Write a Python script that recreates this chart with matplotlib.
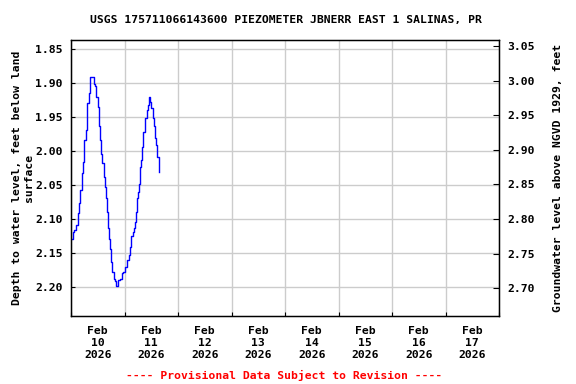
import datetime as dt

import matplotlib
matplotlib.use("Agg")
import matplotlib.dates as mdates
from matplotlib import pyplot as plt

# hours after 2026-02-10 00:00 and depth to water level (ft below land surface)
hours = [0.0, 0.75, 1.5, 2.2, 3.0, 3.7, 4.2, 4.8, 5.4, 6.0, 6.7, 7.3, 7.9, 8.3, 8.7,
         9.7, 10.1, 10.9, 11.3, 11.9, 12.4, 13.0, 13.6, 14.0, 14.6, 15.1, 15.5, 16.0,
         16.5, 17.0, 17.5, 18.0, 18.6, 19.1, 19.8, 20.3, 20.9, 21.8, 22.7, 23.5, 24.3,
         25.0, 25.8, 26.4, 27.0, 27.6, 28.2, 28.8, 29.2, 29.7, 30.1, 30.6, 30.9, 31.5,
         31.9, 32.5, 33.0, 33.4, 33.9, 34.4, 34.9, 35.3, 36.1, 36.7, 37.3, 37.7, 38.2,
         38.8, 39.3, 39.7]
depth = [2.129, 2.120, 2.117, 2.109, 2.092, 2.077, 2.058, 2.033, 2.016, 1.984, 1.969,
         1.930, 1.915, 1.905, 1.891, 1.891, 1.901, 1.905, 1.920, 1.935, 1.964, 1.984,
         2.004, 2.018, 2.038, 2.053, 2.070, 2.090, 2.114, 2.129, 2.144, 2.163, 2.178,
         2.189, 2.191, 2.199, 2.190, 2.188, 2.180, 2.178, 2.171, 2.161, 2.153, 2.141,
         2.126, 2.119, 2.114, 2.104, 2.090, 2.070, 2.060, 2.048, 2.023, 2.014, 1.994,
         1.972, 1.964, 1.952, 1.940, 1.932, 1.920, 1.928, 1.937, 1.952, 1.964, 1.981,
         1.991, 2.009, 2.018, 2.031]

start = dt.datetime(2026, 2, 10)
end = dt.datetime(2026, 2, 18)
left_ticks = [1.85, 1.90, 1.95, 2.00, 2.05, 2.10, 2.15, 2.20]
right_ticks = [2.70, 2.75, 2.80, 2.85, 2.90, 2.95, 3.00, 3.05]

title = "USGS 175711066143600 PIEZOMETER JBNERR EAST 1 SALINAS, PR"
left_label = "Depth to water level, feet below land\nsurface"
right_label = "Groundwater level above NGVD 1929, feet"
note = "---- Provisional Data Subject to Revision ----"

font = {"family": "DejaVu Sans Mono", "weight": "bold", "size": 8.2}

times = [start + dt.timedelta(hours=h) for h in hours]

fig = plt.figure(figsize=(5.76, 3.84), dpi=100)
ax = fig.add_axes([71 / 576, 1 - 316 / 384, 428 / 576, 276 / 384])

ax.plot(times, depth, color="#0000FF", linewidth=1.0, drawstyle="steps-post")

ax.set_xlim(start, end)
ax.set_ylim(2.2431, 1.8367)
ax.set_yticks(left_ticks)
ax.set_yticklabels([f"{v:.2f}" for v in left_ticks], fontdict=font)

ax.xaxis.set_major_locator(mdates.DayLocator())
ax.xaxis.set_major_formatter(plt.NullFormatter())
ax.xaxis.set_minor_locator(mdates.HourLocator(byhour=[12]))
ax.xaxis.set_minor_formatter(mdates.DateFormatter("%b\n%d\n%Y"))
for lbl in ax.xaxis.get_minorticklabels():
    lbl.set_fontfamily(font["family"])
    lbl.set_fontweight("bold")
    lbl.set_fontsize(font["size"])
    lbl.set_linespacing(1.25)
ax.tick_params(axis="x", which="minor", length=0, pad=7)
ax.tick_params(axis="x", which="major", direction="in", length=3)
ax.tick_params(axis="y", direction="in", length=3, pad=6)

ax.grid(True, which="major", color="#CCCCCC", linewidth=1.0)
ax.set_axisbelow(True)
for sp in ax.spines.values():
    sp.set_linewidth(1.0)

ax.set_ylabel(left_label, fontdict=font, labelpad=1)

ax2 = ax.twinx()
ax2.set_ylim(2.66, 3.0587)
ax2.set_yticks(right_ticks)
ax2.set_yticklabels([f"{v:.2f}" for v in right_ticks], fontdict=font)
ax2.tick_params(axis="y", direction="in", length=4, pad=6)
ax2.set_ylabel(right_label, fontdict=font, labelpad=13)

fig.text(0.4965, 1 - 20 / 384, title, ha="center", va="center", fontdict=font)
fig.text(0.493, 1 - 375 / 384, note, ha="center", va="center",
         color="#FF0000", fontdict=font)

fig.savefig("out.png", dpi=100)
